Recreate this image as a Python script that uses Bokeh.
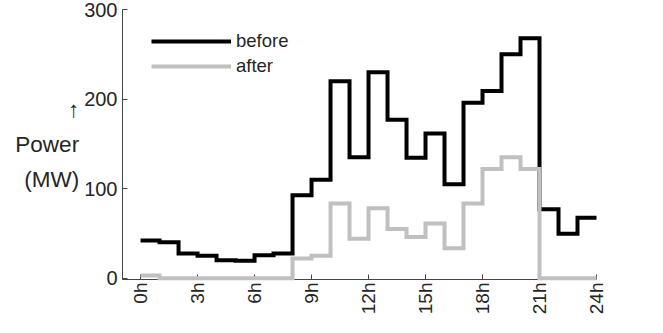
import math
from bokeh.plotting import figure
from bokeh.models import Range1d, FixedTicker, Legend, LegendItem
from bokeh.embed import file_html
from bokeh.resources import INLINE

hours = list(range(24))
before = [42, 40, 27.5, 25, 20, 19.5, 25.5, 27.5, 92.5, 110, 220, 135,
          230, 177, 134.5, 161.5, 105, 196, 209, 250, 268, 77, 49.5, 67.5]
after = [3, 0, 0, 0, 0, 0, 0, 0, 22, 25, 83.5, 44,
         78, 55, 46, 61, 33.5, 83.5, 122, 135, 122, 0, 0, 0]
tick_hours = [0, 3, 6, 9, 12, 15, 18, 21, 24]
tick_labels = ["0h", "3h", "6h", "9h", "12h", "15h", "18h", "21h", "24h"]
y_ticks = [0, 100, 200, 300]
y_label = "\u2191\nPower\n(MW)"

FONT = "Liberation Sans"
AXIS_COLOR = "#444444"
TEXT_COLOR = "#262626"

p = figure(width=647, height=317, output_backend="svg", toolbar_location=None,
           x_range=Range1d(-0.95, 24), y_range=Range1d(-1.5, 300),
           min_border_left=122, min_border_right=51, min_border_top=9,
           min_border_bottom=38)
p.outline_line_color = None
p.grid.visible = False
p.background_fill_color = "white"
p.border_fill_color = "white"

xs = hours + [24]
rb = p.step(xs, before + [before[-1]], mode="after", line_color="black",
            line_width=4, line_join="miter", level="overlay")
ra = p.step(xs, after + [after[-1]], mode="after", line_color="#c0c0c0",
            line_width=4, line_join="miter", level="overlay")

xa = p.xaxis[0]
xa.ticker = FixedTicker(ticks=tick_hours)
xa.major_label_overrides = {h: l for h, l in zip(tick_hours, tick_labels)}
xa.major_label_orientation = math.pi / 2
xa.minor_tick_line_color = None
xa.major_tick_in = 5
xa.major_tick_out = 0
xa.major_label_standoff = 3
xa.axis_line_color = AXIS_COLOR
xa.major_tick_line_color = AXIS_COLOR
xa.major_label_text_font = FONT
xa.major_label_text_font_size = "19px"
xa.major_label_text_color = TEXT_COLOR

ya = p.yaxis[0]
ya.ticker = FixedTicker(ticks=y_ticks)
ya.minor_tick_line_color = None
ya.major_tick_in = 5
ya.major_tick_out = 0
ya.major_label_standoff = 5
ya.axis_line_color = AXIS_COLOR
ya.major_tick_line_color = AXIS_COLOR
ya.major_label_text_font = FONT
ya.major_label_text_font_size = "20px"
ya.major_label_text_color = TEXT_COLOR
ya.axis_label = y_label
ya.axis_label_orientation = "horizontal"
ya.axis_label_standoff = 2
ya.axis_label_text_font = FONT
ya.axis_label_text_font_size = "22.5px"
ya.axis_label_text_font_style = "normal"
ya.axis_label_text_color = TEXT_COLOR
ya.axis_label_text_align = "right"
ya.axis_label_text_line_height = 1.4

legend = Legend(items=[LegendItem(label="before", renderers=[rb]),
                       LegendItem(label="after", renderers=[ra])],
                location=(29, 202), border_line_alpha=0, background_fill_alpha=0,
                glyph_width=80, glyph_height=22, label_height=22, spacing=3,
                padding=0, margin=0, label_standoff=5,
                label_text_font=FONT, label_text_font_size="18.5px",
                label_text_color=TEXT_COLOR)
p.add_layout(legend)

open("out.html", "w").write(file_html(p, INLINE))
